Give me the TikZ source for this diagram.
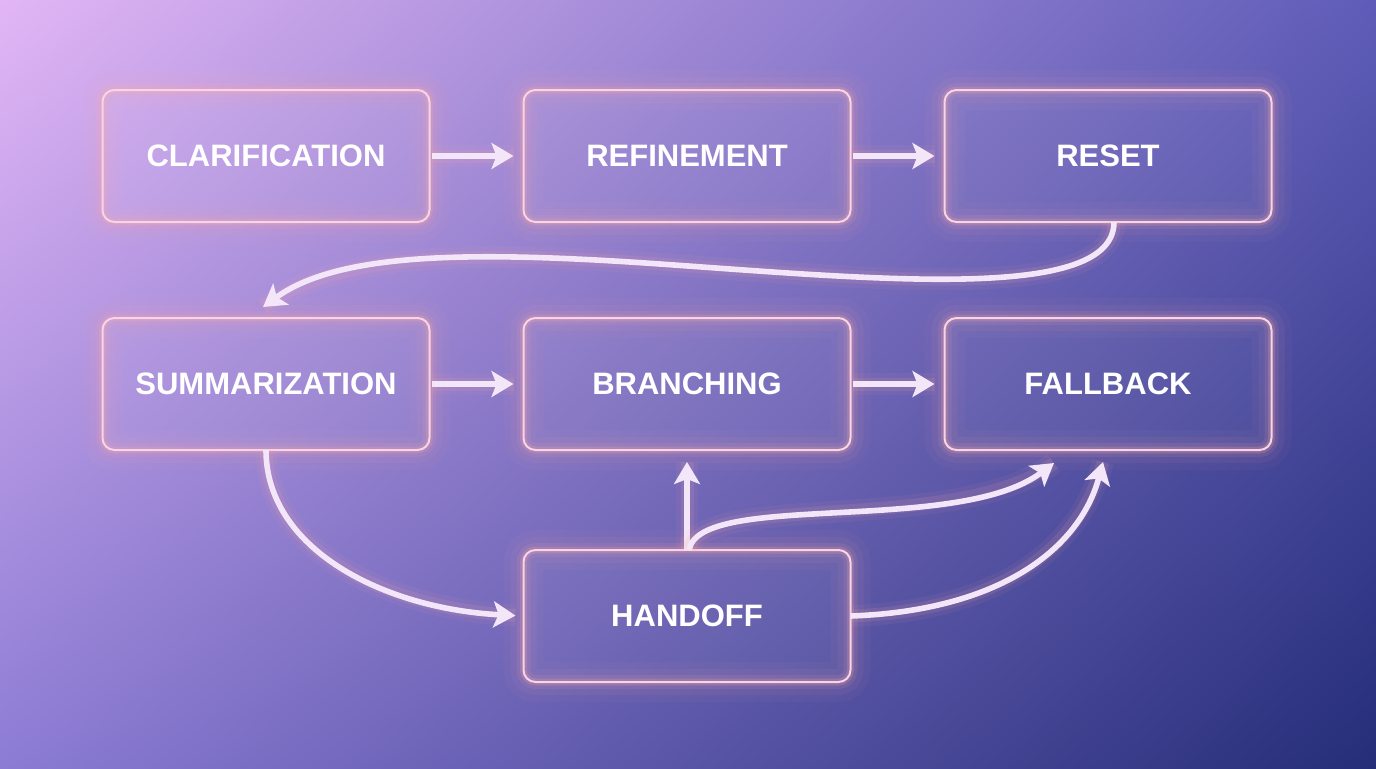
\documentclass[tikz,border=0pt]{standalone}
\usepackage{fontspec}
\setmainfont{Liberation Sans}
\usetikzlibrary{arrows.meta,positioning,shadings}

\definecolor{bgtl}{HTML}{E2B6F5}
\definecolor{bgtr}{HTML}{5E5CB8}
\definecolor{bgbl}{HTML}{8C7CD4}
\definecolor{bgbr}{HTML}{252D78}
\definecolor{edgec}{HTML}{F8D4E4}
\definecolor{glowc}{HTML}{FFA8A8}
\definecolor{linec}{HTML}{F3E6F8}

\begin{document}
\begin{tikzpicture}[
  node distance=48pt and 47pt,
  box/.style={draw=edgec,line width=1pt,rounded corners=6pt,fill=white,fill opacity=0.045,text opacity=1,
    minimum width=163.5pt,minimum height=66pt,inner sep=0pt,outer sep=0pt,text=white,
    font=\bfseries\fontsize{15.5pt}{18pt}\selectfont,
    preaction={draw=glowc,line width=20pt,draw opacity=0.04},
    preaction={draw=glowc,line width=13pt,draw opacity=0.06},
    preaction={draw=glowc,line width=7pt,draw opacity=0.1},
    preaction={draw=glowc,line width=3.5pt,draw opacity=0.2}},
  arrow/.style={draw=linec,line width=2.8pt,-{Stealth[length=11pt,width=13pt,inset=2.5pt]},
    preaction={draw=glowc,-,line width=11pt,draw opacity=0.06},
    preaction={draw=glowc,-,line width=6.5pt,draw opacity=0.12}}
]
\shade[upper left=bgtl,upper right=bgtr,lower left=bgbl,lower right=bgbr] (0,0) rectangle (688pt,-384pt);
\useasboundingbox (0,0) rectangle (688pt,-384pt);

% top row
\node[box] (clar) at (133pt,-78pt) {CLARIFICATION};
\node[box, right=of clar] (refine) {REFINEMENT};
\node[box, right=of refine] (reset) {RESET};
% middle row
\node[box, below=of clar] (summ) {SUMMARIZATION};
\node[box, right=of summ] (branch) {BRANCHING};
\node[box, right=of branch] (fallback) {FALLBACK};
% bottom
\node[box, below=50pt of branch] (handoff) {HANDOFF};
\coordinate (wave) at (330pt,-132pt);

\draw[arrow,shorten <=1pt,shorten >=5pt] (clar) -- (refine);
\draw[arrow,shorten <=1pt,shorten >=5pt] (refine) -- (reset);
\draw[arrow,shorten <=1pt,shorten >=5pt] (summ) -- (branch);
\draw[arrow,shorten <=1pt,shorten >=5pt] (branch) -- (fallback);
\draw[arrow] ([xshift=3pt]reset.south)
  to[out=-90,in=-4,out looseness=0.45,in looseness=1.23] (wave)
  to[out=176,in=36,out looseness=1.2,in looseness=0.6] ([xshift=-1.5pt,yshift=5.5pt]summ.north);
\draw[arrow,shorten >=4pt] (summ.south)
  to[out=-90,in=177,out looseness=0.83,in looseness=1.17] (handoff.west);
\draw[arrow,shorten >=6pt] (handoff.north) -- (branch.south);
\draw[arrow] ([xshift=1pt]handoff.north)
  to[out=80,in=-143,out looseness=0.41,in looseness=0.82] ([xshift=-27pt,yshift=-6.5pt]fallback.south);
\draw[arrow] (handoff.east)
  to[out=2,in=-105,out looseness=1.29,in looseness=0.78] ([xshift=-2.5pt,yshift=-6pt]fallback.south);
\end{tikzpicture}
\end{document}
